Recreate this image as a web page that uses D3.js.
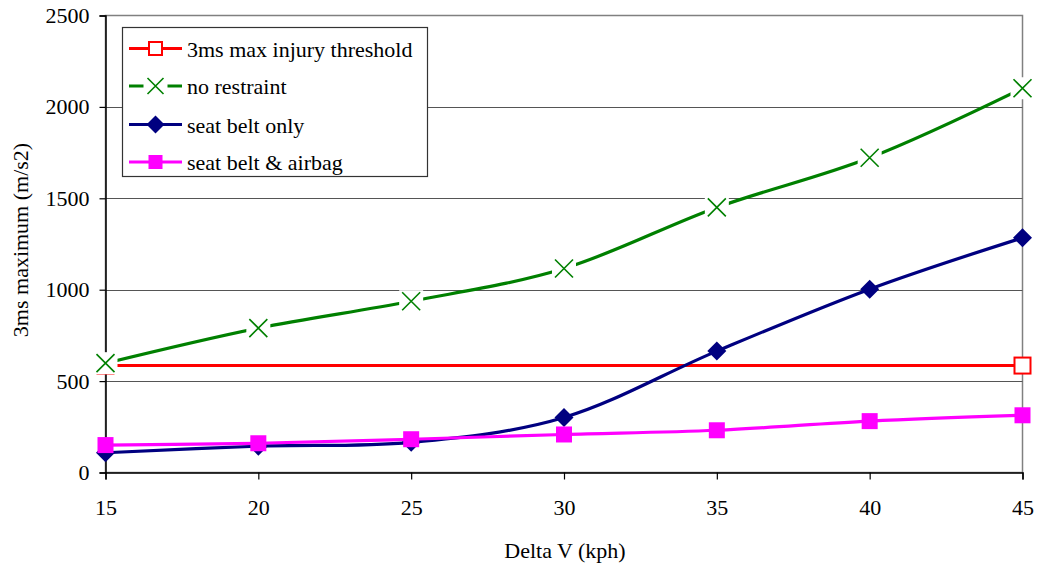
<!DOCTYPE html>
<html>
<head>
<meta charset="utf-8">
<script src="https://cdn.jsdelivr.net/npm/d3@7"></script>
<style>
  html, body { margin: 0; padding: 0; background: #fff; }
</style>
</head>
<body>
<svg id="chart" width="1039" height="564"></svg>
<script>
// Delta V (kph) on the x axis
const speeds = [15, 20, 25, 30, 35, 40, 45];
// 3ms maximum acceleration (m/s2) per restraint configuration
const thresholdX = [15, 45];
const thresholdY = [585, 585];
const noRestraint = [598, 790, 937, 1116, 1450, 1722, 2102];
const seatBeltOnly = [108, 144, 165, 301, 664, 1003, 1284];
const seatBeltAirbag = [150, 160, 182, 208, 231, 281, 313];
const yTicks = [0, 500, 1000, 1500, 2000, 2500];
const xTicks = [15, 20, 25, 30, 35, 40, 45];
const seriesNames = ["3ms max injury threshold", "no restraint", "seat belt only", "seat belt & airbag"];

const FONT = "'Liberation Serif', 'Times New Roman', Times, serif";
const FS = 22;

const svg = d3.select("#chart");
const plotL = 105.5, plotR = 1022.5, plotT = 15.5, plotB = 472.5;

const x = d3.scaleLinear().domain([15, 45]).range([plotL, plotR]);
const y = d3.scaleLinear().domain([0, 2500]).range([plotB, plotT]);

// plot frame and gridlines
svg.append("rect").attr("x", plotL).attr("y", plotT)
  .attr("width", plotR - plotL).attr("height", plotB - plotT)
  .attr("fill", "none").attr("stroke", "#808080").attr("stroke-width", 1.5);

svg.append("g").selectAll("line").data(yTicks.slice(1, -1)).join("line")
  .attr("x1", plotL).attr("x2", plotR)
  .attr("y1", d => Math.round(y(d)) + 0.5).attr("y2", d => Math.round(y(d)) + 0.5)
  .attr("stroke", "#555").attr("stroke-width", 1);

// axes
const yAxis = d3.axisLeft(y).tickValues(yTicks).tickFormat(d3.format("d")).tickSize(6).tickPadding(10);
const gy = svg.append("g").attr("transform", `translate(${plotL},0)`).call(yAxis);
const xAxis = d3.axisBottom(x).tickValues(xTicks).tickFormat(d3.format("d")).tickSize(7).tickPadding(20);
const gx = svg.append("g").attr("transform", `translate(0,${plotB})`).call(xAxis);
[gx, gy].forEach(g => {
  g.attr("font-family", FONT).attr("font-size", FS);
  g.select(".domain").attr("stroke", "#000").attr("stroke-width", 1.5);
  g.selectAll(".tick line").attr("stroke", "#000").attr("stroke-width", 1.2);
  g.selectAll(".tick text").attr("fill", "#000");
});

// axis titles
svg.append("text").attr("x", 565).attr("y", 558)
  .attr("text-anchor", "middle").attr("font-family", FONT).attr("font-size", FS).text("Delta V (kph)");
svg.append("text")
  .attr("transform", `translate(28,${(plotT + plotB) / 2 - 4}) rotate(-90)`)
  .attr("text-anchor", "middle").attr("font-family", FONT).attr("font-size", FS).text("3ms maximum (m/s2)");

const smooth = d3.line().x(d => x(d[0])).y(d => y(d[1])).curve(d3.curveCardinal.tension(0));
const zip = (xs, ys) => xs.map((v, i) => [v, ys[i]]);

function drawSquare(g, cx, cy, s, fill, stroke) {
  g.append("rect").attr("x", cx - s / 2).attr("y", cy - s / 2).attr("width", s).attr("height", s)
    .attr("fill", fill).attr("stroke", stroke).attr("stroke-width", stroke === "none" ? 0 : 2);
}
function drawDiamond(g, cx, cy, r, color) {
  g.append("path").attr("d", `M${cx},${cy - r}L${cx + r},${cy}L${cx},${cy + r}L${cx - r},${cy}Z`)
    .attr("fill", color);
}
function drawCross(g, cx, cy, r, color) {
  g.append("rect").attr("x", cx - 12).attr("y", cy - 11).attr("width", 24).attr("height", 22).attr("fill", "#fff");
  g.append("path").attr("d", `M${cx - r},${cy - r}L${cx + r},${cy + r}M${cx - r},${cy + r}L${cx + r},${cy - r}`)
    .attr("stroke", color).attr("stroke-width", 1.6).attr("fill", "none");
}

const plot = svg.append("g");

// injury threshold
const thr = zip(thresholdX, thresholdY);
plot.append("path").attr("d", smooth(thr)).attr("fill", "none").attr("stroke", "#ff0000").attr("stroke-width", 3);
thr.forEach(d => drawSquare(plot, x(d[0]), y(d[1]), 16, "#fff", "#ff0000"));

// no restraint
const nr = zip(speeds, noRestraint);
plot.append("path").attr("d", smooth(nr)).attr("fill", "none").attr("stroke", "#008000").attr("stroke-width", 3.2);
nr.forEach(d => drawCross(plot, x(d[0]), y(d[1]), 9, "#008000"));

// seat belt only
const sb = zip(speeds, seatBeltOnly);
plot.append("path").attr("d", smooth(sb)).attr("fill", "none").attr("stroke", "#000080").attr("stroke-width", 3.2);
sb.forEach(d => drawDiamond(plot, x(d[0]), y(d[1]), 9.5, "#000080"));

// seat belt & airbag
const sa = zip(speeds, seatBeltAirbag);
plot.append("path").attr("d", smooth(sa)).attr("fill", "none").attr("stroke", "#ff00ff").attr("stroke-width", 3.2);
sa.forEach(d => drawSquare(plot, x(d[0]), y(d[1]), 16, "#ff00ff", "none"));

// legend
const lg = svg.append("g");
lg.append("rect").attr("x", 122.5).attr("y", 27.5).attr("width", 305).attr("height", 149)
  .attr("fill", "#fff").attr("stroke", "#333").attr("stroke-width", 1.2);
const rowsY = [48.5, 86, 124.5, 162];
const colors = ["#ff0000", "#008000", "#000080", "#ff00ff"];
rowsY.forEach((ry, i) => {
  lg.append("line").attr("x1", 129).attr("x2", 182).attr("y1", ry).attr("y2", ry)
    .attr("stroke", colors[i]).attr("stroke-width", 3.2);
  if (i === 0) drawSquare(lg, 155.5, ry, 13, "#fff", colors[i]);
  if (i === 1) drawCross(lg, 155.5, ry, 8, colors[i]);
  if (i === 2) drawDiamond(lg, 155.5, ry, 9, colors[i]);
  if (i === 3) drawSquare(lg, 155.5, ry, 14, colors[i], "none");
  lg.append("text").attr("x", 187).attr("y", ry + 8)
    .attr("font-family", FONT).attr("font-size", FS).text(seriesNames[i]);
});
</script>
</body>
</html>
